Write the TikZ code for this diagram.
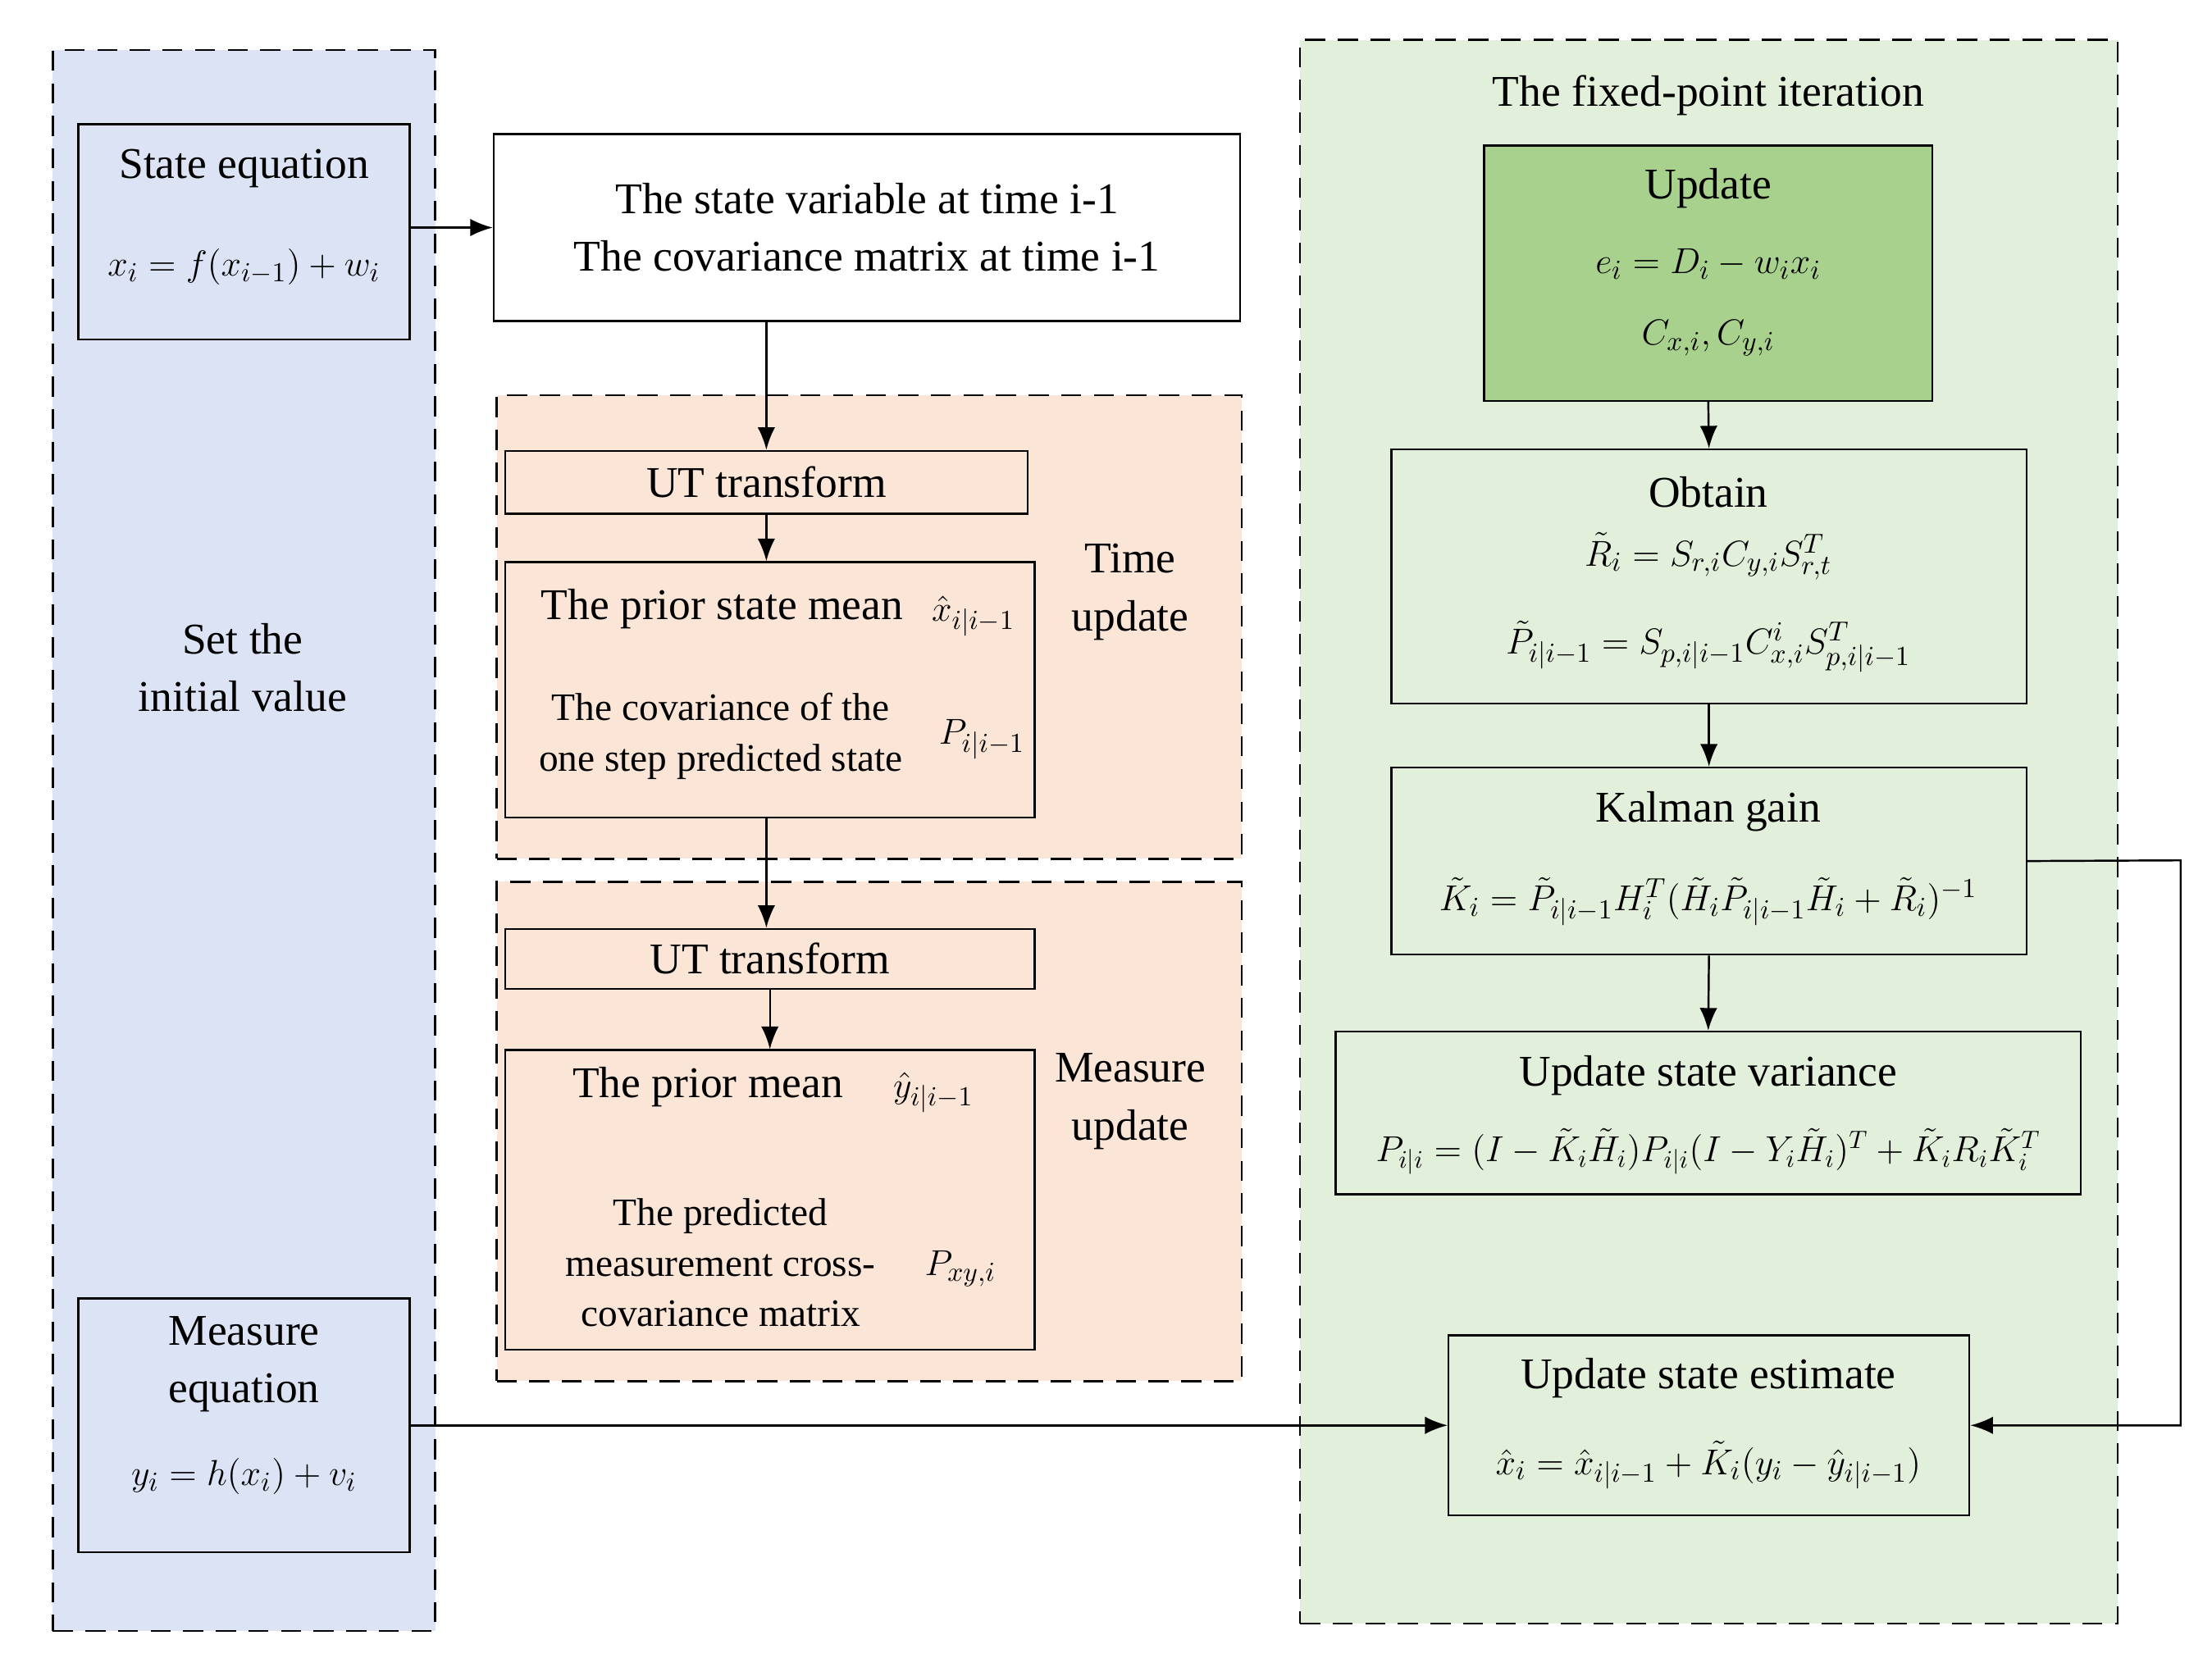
\documentclass[tikz,border=0pt]{standalone}
\usepackage{fontspec}
\setmainfont{Liberation Serif}
\usetikzlibrary{arrows.meta,positioning}
\tikzset{
  box/.style={draw,thick,inner sep=0pt},
  group/.style={draw,thick,dashed,dash pattern=on 8pt off 5pt,inner sep=0pt},
  txt/.style={align=center,inner sep=0pt,font=\fontsize{17.5}{23}\selectfont},
  mth/.style={txt,font=\fontsize{15}{19}\selectfont},
  link/.style={thick,-{Latex[length=9pt,width=7pt]}}
}
\begin{document}
\begin{tikzpicture}[x=0.02cm,y=-0.02cm]
    \useasboundingbox (0,0) rectangle (1550,1162);
    % groups
    \node[group,fill={rgb,255:red,220;green,227;blue,244},minimum width=268*0.02cm,minimum height=1108*0.02cm] (Init) at (171,589) {};
    \node[group,fill={rgb,255:red,251;green,229;blue,214},minimum width=522*0.02cm,minimum height=325*0.02cm] (TimeGrp) at (609,439.5) {};
    \node[group,fill={rgb,255:red,251;green,229;blue,214},minimum width=522*0.02cm,minimum height=350*0.02cm] (MeasGrp) at (609,793) {};
    \node[group,fill={rgb,255:red,226;green,239;blue,218},minimum width=573*0.02cm,minimum height=1110*0.02cm] (FixGrp) at (1197.5,583) {};
    % boxes
    \node[box,fill={rgb,255:red,220;green,227;blue,244},minimum width=232*0.02cm,minimum height=151*0.02cm] (StateEq) at (171,162.5) {};
    \node[box,fill={rgb,255:red,220;green,227;blue,244},minimum width=232*0.02cm,minimum height=178*0.02cm] (MeasEq) at (171,999) {};
    \node[box,fill=white,minimum width=523*0.02cm,minimum height=131*0.02cm] (StateVar) at (607.5,159.5) {};
    \node[box,minimum width=366*0.02cm,minimum height=44*0.02cm] (UTa) at (537,338) {};
    \node[box,minimum width=371*0.02cm,minimum height=179*0.02cm] (PriorA) at (539.5,483.5) {};
    \node[box,minimum width=371*0.02cm,minimum height=42*0.02cm] (UTb) at (539.5,672) {};
    \node[box,minimum width=371*0.02cm,minimum height=210*0.02cm] (PriorB) at (539.5,841) {};
    \node[box,fill={rgb,255:red,169;green,209;blue,142},minimum width=314*0.02cm,minimum height=179*0.02cm] (Upd) at (1197,191.5) {};
    \node[box,minimum width=445*0.02cm,minimum height=178*0.02cm] (Obtain) at (1197.5,404) {};
    \node[box,minimum width=445*0.02cm,minimum height=131*0.02cm] (Gain) at (1197.5,603.5) {};
    \node[box,minimum width=522*0.02cm,minimum height=114*0.02cm] (Var) at (1197,780) {};
    \node[box,minimum width=365*0.02cm,minimum height=126*0.02cm] (Est) at (1197.5,999) {};
    % texts
    \node[txt] (t1) at (171,118) {State equation};
    \node[mth] (t2) at (171,187) {$x_i = f(x_{i-1}) + w_i$};
    \node[txt] (t3) at (171,956) {Measure\\equation};
    \node[mth] (t4) at (171,1035) {$y_i = h(x_i) + v_i$};
    \node[txt] (t5) at (170,468) {Set the\\initial value};
    \node[txt] (t6) at (607.5,159.5) {The state variable at time i-1\\The covariance matrix at time i-1};
    \node[txt] (t7) at (537,338) {UT transform};
    \node[txt] (t8) at (506,427) {The prior state mean};
    \node[mth] (t9) at (682,432) {$\hat{x}_{i|i-1}$};
    \node[txt,font=\fontsize{15.5}{20}\selectfont] (t10) at (505,516) {The covariance of the\\one step predicted state};
    \node[mth] (t11) at (688,518) {$P_{i|i-1}$};
    \node[txt] (t12) at (792,415) {Time\\update};
    \node[txt] (t13) at (539.5,672) {UT transform};
    \node[txt] (t14) at (496,762) {The prior mean};
    \node[mth] (t15) at (654,766) {$\hat{y}_{i|i-1}$};
    \node[txt,font=\fontsize{15.5}{20}\selectfont] (t16) at (505,885) {The predicted\\measurement cross-\\covariance matrix};
    \node[mth] (t17) at (673,889) {$P_{xy,i}$};
    \node[txt] (t18) at (792,772) {Measure\\update};
    \node[txt] (t19) at (1197,67) {The fixed-point iteration};
    \node[txt] (t20) at (1197,132) {Update};
    \node[mth] (t21) at (1197,185) {$e_i = D_i - w_i x_i$};
    \node[mth] (t22) at (1197,237) {$C_{x,i}, C_{y,i}$};
    \node[txt] (t23) at (1197,345) {Obtain};
    \node[mth] (t24) at (1197,390) {$\tilde{R}_i = S_{r,i} C_{y,i} S_{r,t}^T$};
    \node[mth] (t25) at (1197,453) {$\tilde{P}_{i|i-1} = S_{p,i|i-1} C_{x,i}^i S_{p,i|i-1}^T$};
    \node[txt] (t26) at (1197,569) {Kalman gain};
    \node[mth] (t27) at (1197,632) {$\tilde{K}_i = \tilde{P}_{i|i-1} H_i^T (\tilde{H}_i \tilde{P}_{i|i-1} \tilde{H}_i + \tilde{R}_i)^{-1}$};
    \node[txt] (t28) at (1197,754) {Update state variance};
    \node[mth,font=\fontsize{14}{18}\selectfont] (t29) at (1197,807) {$P_{i|i} = (I - \tilde{K}_i \tilde{H}_i) P_{i|i} (I - Y_i \tilde{H}_i)^T + \tilde{K}_i R_i \tilde{K}_i^T$};
    \node[txt] (t30) at (1197,966) {Update state estimate};
    \node[mth] (t31) at (1197,1027) {$\hat{x}_i = \hat{x}_{i|i-1} + \tilde{K}_i (y_i - \hat{y}_{i|i-1})$};
    % connectors
    \coordinate (Turn) at (1528,603);
    \draw[link] (StateEq.east |- StateVar) -- (StateVar.west);
    \draw[link] (StateVar.south -| UTa) -- (UTa.north);
    \draw[link] (UTa.south) -- (UTa.south |- PriorA.north);
    \draw[link] (PriorA.south -| UTa) -- (UTa |- UTb.north);
    \draw[link] (UTb.south) -- (PriorB.north);
    \draw[link] (Upd.south) -- (Obtain.north);
    \draw[link] (Obtain.south) -- (Gain.north);
    \draw[link] (Gain.south) -- (Var.north);
    \draw[link] (Gain.east) -- (Turn) |- (Est.east);
    \draw[link] (MeasEq.east) -- (Est.west);
\end{tikzpicture}
\end{document}
